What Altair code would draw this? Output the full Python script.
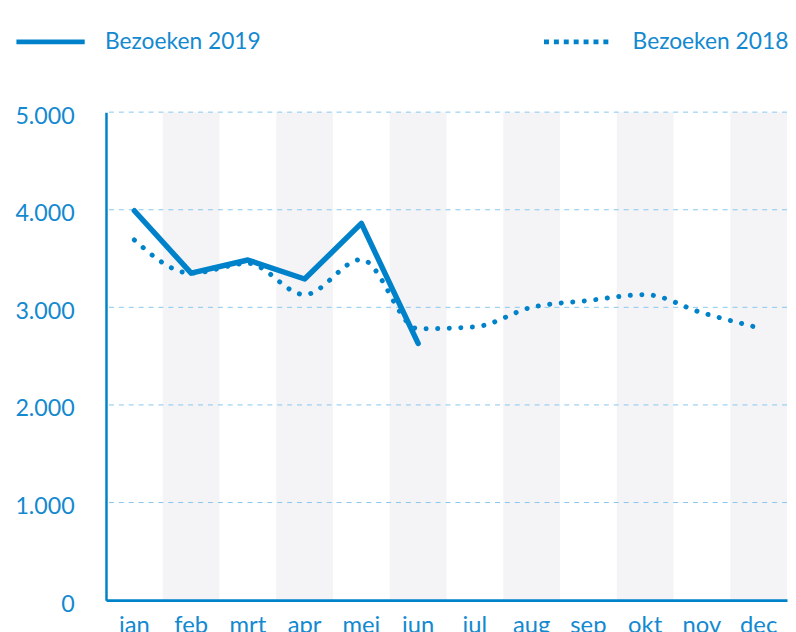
import altair as alt
import pandas as pd

months = ["jan", "feb", "mrt", "apr", "mei", "jun", "jul", "aug", "sep", "okt", "nov", "dec"]
bezoeken_2019 = [3990, 3350, 3485, 3290, 3860, 2630]
bezoeken_2018 = [3690, 3350, 3450, 3130, 3490, 2780, 2800, 3000, 3070, 3130, 2945, 2790]
grid_values = [1000, 2000, 3000, 4000, 5000]
shaded_months = ["feb", "apr", "jun", "aug", "okt", "dec"]

LINE = "#0082CA"
TEXT = "#1389D0"
FONT = "Lato"
SERIES = ["Bezoeken 2019", "Bezoeken 2018"]

df19 = pd.DataFrame({"maand": months[:len(bezoeken_2019)], "bezoeken": bezoeken_2019, "serie": SERIES[0]})
df18 = pd.DataFrame({"maand": months, "bezoeken": bezoeken_2018, "serie": SERIES[1]})

bands = pd.DataFrame({"maand": shaded_months})
grid = pd.DataFrame({"y": grid_values})

x_scale = alt.Scale(type="band", domain=months, paddingInner=0, paddingOuter=0)
y_scale = alt.Scale(domain=[0, 5000], nice=False)

x_enc = alt.X("maand:N", scale=x_scale, sort=months,
              axis=alt.Axis(title=None, labelAngle=0, labelAlign="center", labelBaseline="top",
                            ticks=False, domainColor=LINE, domainWidth=3,
                            labelColor=TEXT, labelFont=FONT, labelFontSize=24, labelPadding=14,
                            grid=False))
y_enc = alt.Y("bezoeken:Q", scale=y_scale,
              axis=alt.Axis(title=None, values=[0, 1000, 2000, 3000, 4000, 5000], ticks=False,
                            domainColor=LINE, domainWidth=2.5, grid=False,
                            labelColor=TEXT, labelFont=FONT, labelFontSize=23.5, labelPadding=32,
                            labelOffset=4,
                            labelExpr="replace(format(datum.value, ','), ',', '.')"))
stroke_enc = alt.Stroke("serie:N",
                        scale=alt.Scale(domain=SERIES, range=[LINE, LINE]),
                        legend=alt.Legend(title=None, orient="none", legendX=-93, legendY=-108,
                                          direction="horizontal", columns=2, columnPadding=275,
                                          symbolType="stroke", symbolSize=4761, symbolStrokeWidth=5,
                                          labelOffset=18, labelFont=FONT, labelFontSize=23,
                                          labelColor=TEXT, labelLimit=300, padding=0,
                                          symbolStrokeColor=LINE,
                                          symbolDash={"expr": "datum.value == 'Bezoeken 2018' ? [5, 5] : [1, 0]"}))

band_layer = alt.Chart(bands).mark_rect(color="#F4F4F7").encode(
    x=alt.X("maand:N", scale=x_scale, sort=months),
    y=alt.datum(0, scale=y_scale),
    y2=alt.datum(5000),
)

grid_layer = alt.Chart(grid).mark_rule(color="#86C6EE", strokeDash=[5, 5], strokeWidth=1).encode(
    y=alt.Y("y:Q", scale=y_scale),
)

line18 = alt.Chart(df18).mark_line(strokeWidth=5, strokeCap="round", strokeDash=[0.1, 11.6],
                                   interpolate="monotone").encode(
    x=x_enc, y=y_enc, stroke=stroke_enc,
)

line19 = alt.Chart(df19).mark_line(strokeWidth=5.5, strokeCap="round", strokeJoin="round").encode(
    x=x_enc, y=y_enc, stroke=stroke_enc,
)

chart = alt.layer(band_layer, grid_layer, line18, line19).properties(
    width=688,
    height=493,
    autosize=alt.AutoSizeParams(type="none"),
    padding={"left": 99, "top": 102, "right": 1, "bottom": 30},
).configure_view(stroke=None)

chart.save("out.html", embed_options={"renderer": "svg", "actions": False})
